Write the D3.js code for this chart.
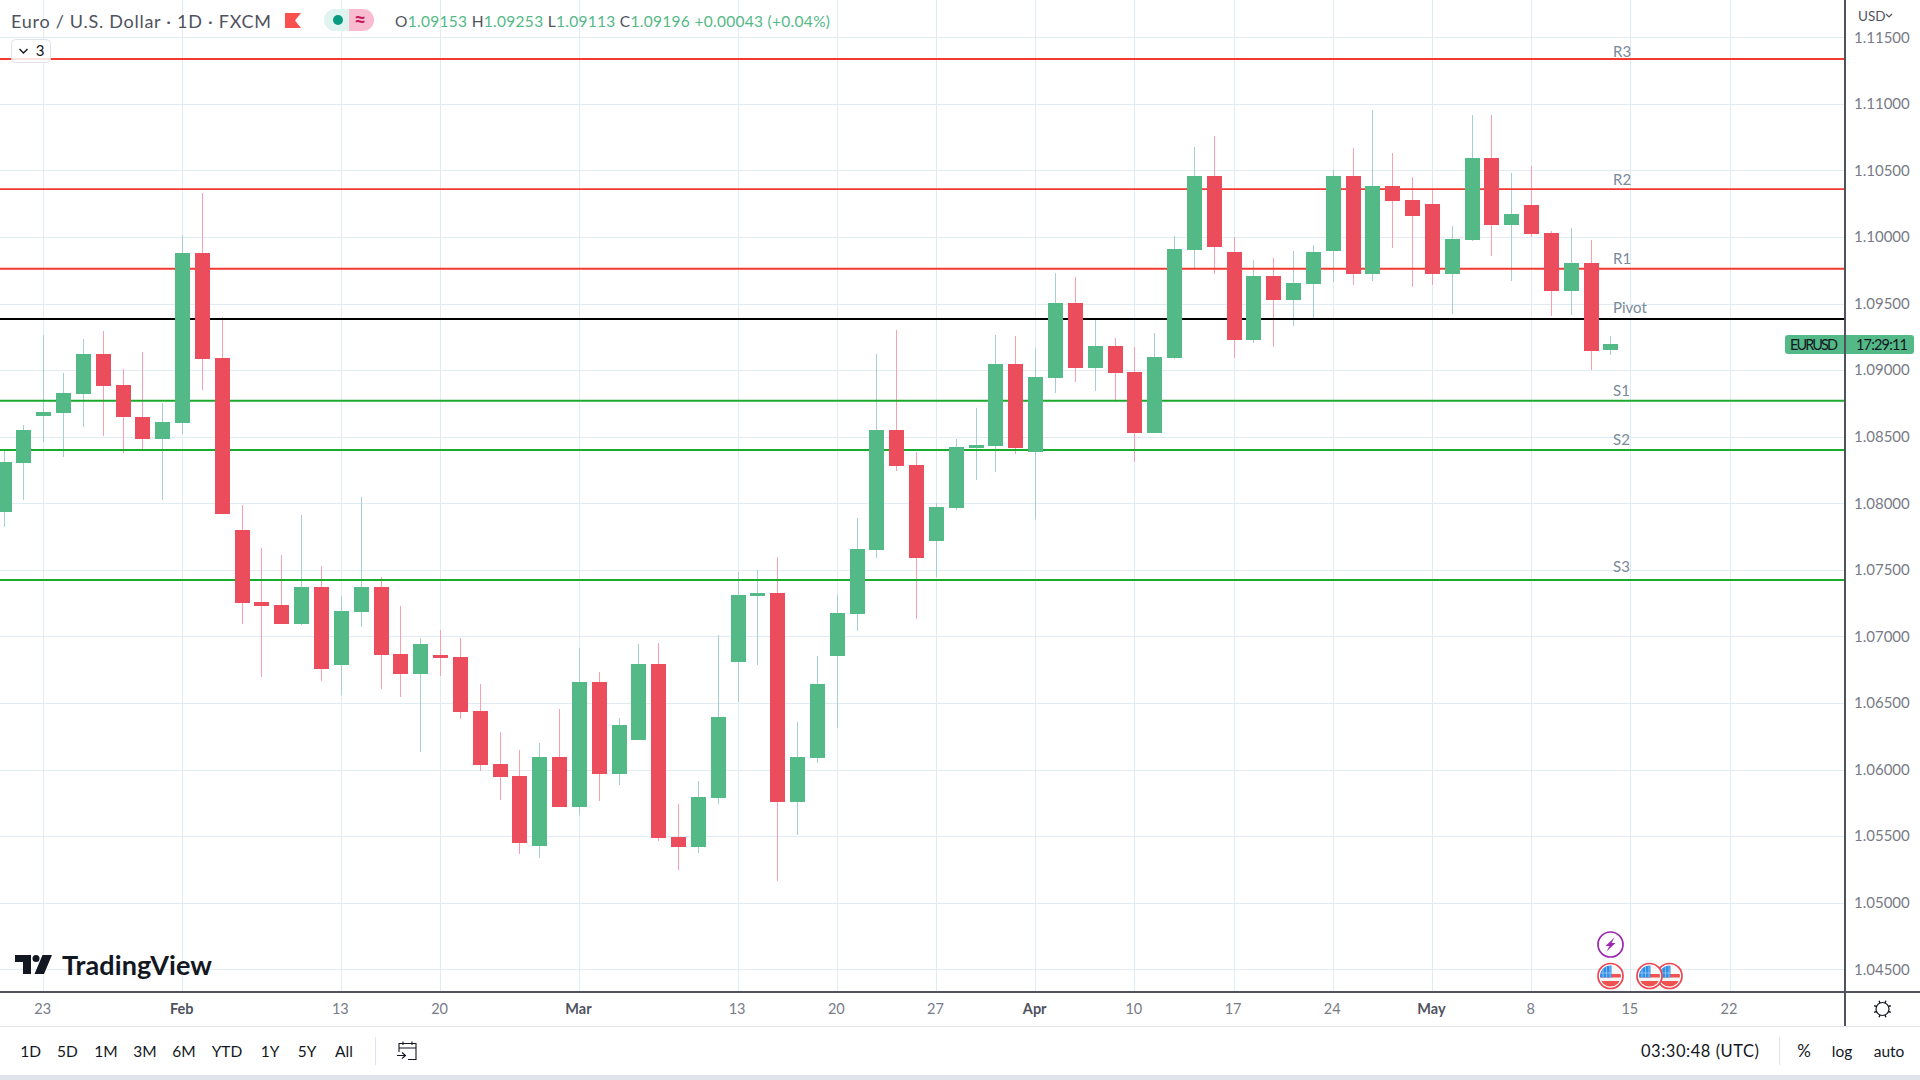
<!DOCTYPE html>
<html>
<head>
<meta charset="utf-8">
<title>EURUSD</title>
<script src="https://cdn.jsdelivr.net/npm/d3@7"></script>
<style>
  html, body { margin: 0; padding: 0; background: #fff; overflow: hidden; }
  svg { display: block; font-family: Lato, "Noto Sans", sans-serif; }
  .axis path, .axis line { display: none; }
</style>
</head>
<body>
<svg id="chart" width="1920" height="1080"></svg>
<script>
// daily candles, 19 Jan - 12 May
const opens = [1.07937,1.08302,1.08655,1.08678,1.08821,1.09121,1.08888,1.08648,1.08483,1.08603,
  1.09880,1.09091,1.07799,1.07258,1.07236,1.07093,1.07371,1.06785,1.07183,1.07371,
  1.06868,1.06718,1.06860,1.06845,1.06440,1.06042,1.05951,1.05426,1.06094,1.05719,
  1.06658,1.05966,1.06222,1.06793,1.05493,1.05418,1.05786,1.06808,1.07303,1.07326,
  1.05756,1.06087,1.06853,1.07168,1.07649,1.08550,1.08287,1.07717,1.07964,1.08415,
  1.08430,1.09046,1.08385,1.08941,1.09504,1.09016,1.09181,1.08986,1.08528,1.09091,
  1.09902,1.10458,1.09887,1.09226,1.09707,1.09527,1.09647,1.09895,1.10458,1.09722,
  1.10383,1.10278,1.10248,1.09722,1.09977,1.10593,1.10090,1.10240,1.10030,1.09594,
  1.09805,1.09153];
const highs = [1.08400,1.08588,1.09264,1.08978,1.09234,1.09294,1.09008,1.09136,1.08753,1.10015,
  1.10330,1.09399,1.07987,1.07664,1.07611,1.07912,1.07529,1.07303,1.08047,1.07446,
  1.07228,1.06988,1.07048,1.06988,1.06642,1.06282,1.06147,1.06199,1.06455,1.06913,
  1.06733,1.06387,1.06943,1.06950,1.05741,1.05914,1.07011,1.07484,1.07499,1.07596,
  1.06357,1.06853,1.07311,1.07889,1.09121,1.09301,1.08385,1.08002,1.08483,1.08716,
  1.09264,1.09256,1.09166,1.09730,1.09699,1.09376,1.09241,1.09174,1.09279,1.10007,
  1.10676,1.10759,1.10000,1.09827,1.09842,1.09895,1.09940,1.10503,1.10668,1.10954,
  1.10631,1.10451,1.10360,1.10083,1.10916,1.10916,1.10481,1.10533,1.10045,1.10068,
  1.09977,1.09253];
const lows = [1.07824,1.08024,1.08460,1.08347,1.08573,1.08505,1.08378,1.08393,1.08024,1.08520,
  1.08851,1.07919,1.07093,1.06695,1.07093,1.07086,1.06665,1.06560,1.07071,1.06605,
  1.06545,1.06132,1.06703,1.06380,1.05989,1.05771,1.05366,1.05336,1.05719,1.05659,
  1.05764,1.05884,1.06222,1.05463,1.05245,1.05373,1.05741,1.06507,1.06785,1.05163,
  1.05508,1.06049,1.06312,1.07041,1.07589,1.08242,1.07131,1.07446,1.07949,1.08175,
  1.08235,1.08370,1.07882,1.08828,1.08911,1.08843,1.08761,1.08310,1.08528,1.09084,
  1.09767,1.09722,1.09091,1.09204,1.09174,1.09331,1.09376,1.09662,1.09639,1.09669,
  1.09917,1.09624,1.09639,1.09422,1.09970,1.09857,1.09669,1.10000,1.09407,1.09414,
  1.09001,1.09113];
const closes = [1.08310,1.08550,1.08685,1.08828,1.09121,1.08881,1.08648,1.08483,1.08610,1.09880,
  1.09084,1.07919,1.07251,1.07228,1.07093,1.07371,1.06755,1.07191,1.07371,1.06860,
  1.06718,1.06943,1.06838,1.06432,1.06034,1.05944,1.05448,1.06094,1.05719,1.06658,
  1.05966,1.06335,1.06793,1.05486,1.05418,1.05794,1.06395,1.07311,1.07326,1.05756,
  1.06094,1.06642,1.07176,1.07656,1.08550,1.08280,1.07589,1.07972,1.08423,1.08438,
  1.09046,1.08415,1.08948,1.09504,1.09016,1.09181,1.08978,1.08528,1.09099,1.09910,
  1.10458,1.09925,1.09226,1.09707,1.09527,1.09654,1.09887,1.10458,1.09722,1.10383,
  1.10270,1.10158,1.09722,1.09985,1.10593,1.10090,1.10173,1.10022,1.09594,1.09805,
  1.09144,1.09196];

// pivot levels
const levelNames = ["R3", "R2", "R1", "Pivot", "S1", "S2", "S3"];
const levelValues = [1.11337, 1.10360, 1.09762, 1.09384, 1.08770, 1.08400, 1.07424];
const levelColors = ["#f23a30", "#f23a30", "#f23a30", "#000000", "#1aaa2c", "#1aaa2c", "#1aaa2c"];
const levelLabelOffsets = [-2, -4, -5, -6, -5, -5, -8];

const priceTicks = [1.045, 1.05, 1.055, 1.06, 1.065, 1.07, 1.075, 1.08, 1.085, 1.09, 1.095, 1.10, 1.105, 1.11, 1.115];
const timeTicks = [2, 9, 17, 22, 29, 37, 42, 47, 52, 57, 62, 67, 72, 77, 82, 87];
const timeLabels = ["23", "Feb", "13", "20", "Mar", "13", "20", "27", "Apr", "10", "17", "24", "May", "8", "15", "22"];
const monthLabels = ["Feb", "Mar", "Apr", "May"];

const rangeButtons = ["1D", "5D", "1M", "3M", "6M", "YTD", "1Y", "5Y", "All"];
const rangeButtonX = [30.6, 67.3, 106, 145, 184, 227, 270, 307, 344];

const upColor = "#53b987", downColor = "#eb4d5c";
const upWick = "#a5cfd0", downWick = "#f89fb0";
const gridColor = "#e1ecf2", axisColor = "#50535e";
const paneRight = 1845, paneBottom = 992;

const svg = d3.select("#chart");
const x = d3.scaleLinear().domain([0, 87]).range([3.6, 1729.5]);
const y = d3.scaleLinear().domain([1.045, 1.115]).range([969.3, 37.3]);
const px = function (v) { return Math.round(v); };

/*
 *  Grid
 */
const grid = svg.append("g").attr("shape-rendering", "crispEdges").attr("stroke", gridColor);
grid.selectAll("line.h").data(priceTicks).join("line").attr("class", "h")
    .attr("x1", 0).attr("x2", paneRight)
    .attr("y1", d => px(y(d)) + 0.5).attr("y2", d => px(y(d)) + 0.5);
grid.selectAll("line.v").data(timeTicks).join("line").attr("class", "v")
    .attr("y1", 0).attr("y2", paneBottom)
    .attr("x1", d => px(x(d)) + 0.5).attr("x2", d => px(x(d)) + 0.5);

/*
 *  Candles: wicks sit under the pivot lines, bodies on top of them
 */
const candles = d3.range(opens.length);
const isUp = function (i) { return closes[i] >= opens[i]; };

svg.append("g").attr("shape-rendering", "crispEdges")
    .selectAll("line").data(candles).join("line")
    .attr("x1", i => px(x(i)) + 0.5).attr("x2", i => px(x(i)) + 0.5)
    .attr("y1", i => y(highs[i])).attr("y2", i => y(lows[i]))
    .attr("stroke", i => isUp(i) ? upWick : downWick);

svg.append("g").selectAll("line").data(levelValues).join("line")
    .attr("x1", 0).attr("x2", paneRight)
    .attr("y1", d => y(d)).attr("y2", d => y(d))
    .attr("stroke", (d, i) => levelColors[i])
    .attr("stroke-width", 1.9);

svg.append("g").attr("shape-rendering", "crispEdges")
    .selectAll("rect").data(candles).join("rect")
    .attr("x", i => px(x(i)) - 7)
    .attr("width", 15)
    .attr("y", i => y(Math.max(opens[i], closes[i])))
    .attr("height", i => Math.max(3, y(Math.min(opens[i], closes[i])) - y(Math.max(opens[i], closes[i]))))
    .attr("fill", i => isUp(i) ? upColor : downColor);

svg.append("g").selectAll("text").data(levelNames).join("text")
    .attr("x", 1613)
    .attr("y", (d, i) => y(levelValues[i]) + levelLabelOffsets[i])
    .attr("font-size", 15)
    .attr("fill", "#7b8a9b")
    .text(d => d);

/*
 *  Axes
 */
svg.append("rect").attr("x", 0).attr("y", paneBottom).attr("width", 1920).attr("height", 88).attr("fill", "#fff");
svg.append("rect").attr("x", paneRight).attr("y", 0).attr("width", 75).attr("height", paneBottom).attr("fill", "#fff");

const priceAxis = d3.axisRight(y).tickValues(priceTicks).tickSize(0).tickPadding(0).tickFormat(d3.format(".5f"));
svg.append("g").attr("class", "axis").attr("transform", "translate(1854,0)").call(priceAxis)
    .selectAll("text").attr("font-family", "Lato").attr("font-size", 15).attr("fill", "#787b86");

const timeAxis = d3.axisBottom(x).tickValues(timeTicks).tickSize(0).tickPadding(0)
    .tickFormat((d, i) => timeLabels[i]);
svg.append("g").attr("class", "axis").attr("transform", "translate(-1,1004)").call(timeAxis)
    .selectAll("text").attr("font-family", "Lato").attr("font-size", 14.5)
    .attr("fill", (d, i) => monthLabels.includes(timeLabels[i]) ? "#50535e" : "#787b86")
    .attr("font-weight", (d, i) => monthLabels.includes(timeLabels[i]) ? 700 : 400);

const frame = svg.append("g").attr("shape-rendering", "crispEdges");
frame.append("line").attr("x1", 0).attr("x2", 1920).attr("y1", paneBottom).attr("y2", paneBottom)
    .attr("stroke", axisColor).attr("stroke-width", 1.5);
frame.append("line").attr("x1", paneRight).attr("x2", paneRight).attr("y1", 0).attr("y2", 1026)
    .attr("stroke", axisColor).attr("stroke-width", 1.5);
frame.append("line").attr("x1", 0).attr("x2", 1920).attr("y1", 1026.5).attr("y2", 1026.5).attr("stroke", "#e0e3eb");
frame.append("rect").attr("x", 0).attr("y", 1075).attr("width", 1920).attr("height", 5).attr("fill", "#e0e3eb");
frame.append("line").attr("x1", 375.5).attr("x2", 375.5).attr("y1", 1037).attr("y2", 1065).attr("stroke", "#e0e3eb");
frame.append("line").attr("x1", 1779.5).attr("x2", 1779.5).attr("y1", 1037).attr("y2", 1065).attr("stroke", "#e0e3eb");

/*
 *  Header legend
 */
const label = function (parent, tx, ty, text, size, fill, anchor) {
    return parent.append("text").attr("x", tx).attr("y", ty).attr("font-size", size)
        .attr("fill", fill).attr("text-anchor", anchor || "start").text(text);
};
label(svg, 11, 28, "Euro / U.S. Dollar · 1D · FXCM", 18, "#50535e").attr("textLength", 260);
svg.append("path").attr("d", "M285 13H301L295 20.5L301 28H285Z").attr("fill", "#f9514f");
svg.append("path").attr("d", "M349 9H335A11 11 0 0 0 335 31H349Z").attr("fill", "#dff3ef");
svg.append("path").attr("d", "M349 9H363A11 11 0 0 1 363 31H349Z").attr("fill", "#f8bbd0");
svg.append("circle").attr("cx", 338).attr("cy", 20).attr("r", 5).attr("fill", "#089981");
label(svg, 360, 27, "≈", 21, "#c2185b", "middle").attr("font-weight", 700);

const legend = svg.append("text").attr("x", 395).attr("y", 27).attr("font-size", 15.5).attr("textLength", 435);
const legendParts = [["O", "#50535e"], ["1.09153 ", upColor], ["H", "#50535e"], ["1.09253 ", upColor],
    ["L", "#50535e"], ["1.09113 ", upColor], ["C", "#50535e"], ["1.09196 ", upColor], ["+0.00043 (+0.04%)", upColor]];
legend.selectAll("tspan").data(legendParts).join("tspan")
    .attr("fill", d => d[1]).attr("xml:space", "preserve").text(d => d[0]);

svg.append("rect").attr("x", 11.5).attr("y", 39.5).attr("width", 39).attr("height", 23).attr("rx", 4)
    .attr("fill", "#fff").attr("fill-opacity", 0.85).attr("stroke", "#e0e3eb");
svg.append("path").attr("d", "M19.5 49L23.5 53L27.5 49").attr("fill", "none").attr("stroke", "#131722").attr("stroke-width", 1.4);
label(svg, 40, 56, "3", 15, "#131722", "middle");

/*
 *  Right side badges
 */
label(svg, 1858, 21, "USD", 13.5, "#50535e");
svg.append("path").attr("d", "M1886 14L1889 17L1892 14").attr("fill", "none").attr("stroke", "#50535e").attr("stroke-width", 1.2);

svg.append("path").attr("d", "M1844 335H1788A3 3 0 0 0 1785 338V351A3 3 0 0 0 1788 354H1844Z").attr("fill", upColor);
svg.append("path").attr("d", "M1846 335H1911A3 3 0 0 1 1914 338V351A3 3 0 0 1 1911 354H1846Z").attr("fill", upColor);
label(svg, 1790, 350, "EURUSD", 14.5, "#131722").attr("textLength", 48);
label(svg, 1856, 350, "17:29:11", 14.5, "#131722").attr("textLength", 52);

/*
 *  Watermark and bottom toolbar
 */
svg.append("path").attr("d", "M15 955H31V974H23V962H15ZM42.5 955H52L44 974H34.5Z").attr("fill", "#131722");
svg.append("circle").attr("cx", 36).attr("cy", 958.5).attr("r", 3.5).attr("fill", "#131722");
label(svg, 62, 975, "TradingView", 27, "#131722").attr("font-weight", 700).attr("textLength", 150);

svg.append("g").selectAll("text").data(rangeButtons).join("text")
    .attr("x", (d, i) => rangeButtonX[i]).attr("y", 1057)
    .attr("text-anchor", "middle").attr("font-size", 15.5).attr("fill", "#131722")
    .text(d => d);

svg.append("path")
    .attr("d", "M399 1052V1043.5H416V1059.5H408M399 1048H416M403 1041.5V1045M412 1041.5V1045M397 1055.5H405M402 1052.5L405.5 1055.5L402 1058.5")
    .attr("fill", "none").attr("stroke", "#131722").attr("stroke-width", 1.1);

label(svg, 1641, 1057, "03:30:48 (UTC)", 16.5, "#131722").attr("textLength", 118);
label(svg, 1804, 1057, "%", 17, "#131722", "middle");
label(svg, 1842, 1057, "log", 15.5, "#131722", "middle");
label(svg, 1889, 1057, "auto", 15.5, "#131722", "middle");

const gear = svg.append("g").attr("transform", "translate(1882.5,1009)").attr("fill", "none").attr("stroke", "#131722");
gear.append("circle").attr("r", 6.5).attr("stroke-width", 1.2);
gear.selectAll("line").data(d3.range(8)).join("line")
    .attr("y1", -6.5).attr("y2", -9)
    .attr("transform", d => "rotate(" + (d * 45 + 22.5) + ")")
    .attr("stroke-width", 1.4);

/*
 *  Event markers on the last bars
 */
const defs = svg.append("defs");
defs.append("clipPath").attr("id", "flagClip").append("circle").attr("r", 10.5);

const flag = function (cx, cy) {
    const g = svg.append("g").attr("transform", "translate(" + cx + "," + cy + ")");
    g.append("circle").attr("r", 12.5).attr("fill", "#fff").attr("stroke", "#f0424f").attr("stroke-width", 1.7);
    const inner = g.append("g").attr("clip-path", "url(#flagClip)");
    inner.append("rect").attr("x", -11).attr("y", -11).attr("width", 22).attr("height", 22).attr("fill", "#f6f6f6");
    inner.append("rect").attr("x", -11).attr("y", -2).attr("width", 22).attr("height", 3.5).attr("fill", "#f0524f");
    inner.append("rect").attr("x", -11).attr("y", 5).attr("width", 22).attr("height", 6).attr("fill", "#f0524f");
    inner.append("rect").attr("x", -11).attr("y", -11).attr("width", 12).attr("height", 12.5).attr("fill", "#2f8fe8");
    inner.selectAll("path").data([-7.5, -4, -0.5, -3]).join("path")
        .attr("d", (d, i) => i < 3 ? "M" + d + " -11V1.5" : "M-11 " + d + "H1")
        .attr("stroke", "#a9d0f5").attr("stroke-width", 0.7);
};
flag(1669.5, 976);
flag(1649.5, 976);
flag(1610.5, 976);

const bolt = svg.append("g").attr("transform", "translate(1610.5,944.5)");
bolt.append("circle").attr("r", 12.5).attr("fill", "#fff").attr("stroke", "#9c27b0").attr("stroke-width", 1.7);
bolt.append("path").attr("d", "M4 -7L-5 1.5H-1L-4 7L5 -1.5H1Z").attr("fill", "#9c27b0");
</script>
</body>
</html>
